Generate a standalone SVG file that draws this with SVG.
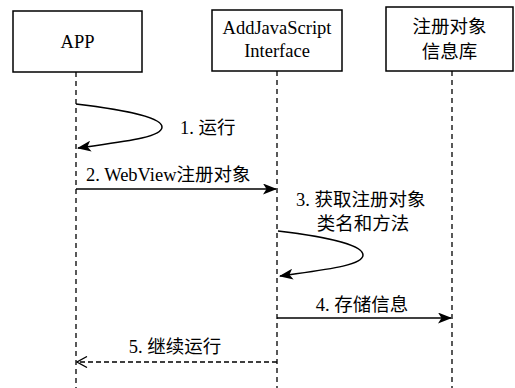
<svg xmlns="http://www.w3.org/2000/svg" width="515" height="388" viewBox="0 0 515 388">
<style>
.box{fill:#fff;stroke:#000;stroke-width:1.5}
.life{stroke:#000;stroke-width:1.3;stroke-dasharray:5,4;fill:none}
.msg{stroke:#000;stroke-width:1.5;fill:none}
.ret{stroke:#000;stroke-width:1.3;fill:none;stroke-dasharray:5,3}
text{font-family:"Liberation Serif","Noto Sans CJK SC",serif;font-size:18.5px;fill:#000}
.c{text-anchor:middle}
</style>
<defs>
<marker id="ah" viewBox="0 0 14 11" refX="13" refY="5.5" markerWidth="14" markerHeight="11" markerUnits="userSpaceOnUse" orient="auto">
<path d="M0,0 L14,5.5 L0,11 L3.5,5.5 Z" fill="#000"/>
</marker>
<marker id="oh" viewBox="0 0 12 12" refX="11" refY="6" markerWidth="12" markerHeight="12" markerUnits="userSpaceOnUse" orient="auto">
<path d="M1,0.5 L11,6 L1,11.5" fill="none" stroke="#000" stroke-width="1.3"/>
</marker>
</defs>
<g id="app"><rect class="box" x="13" y="11" width="129" height="61"/><text class="c" x="77.5" y="48">APP</text></g>
<g id="addjs"><rect class="box" x="212" y="10" width="130" height="61"/><text class="c" x="277" y="34">AddJavaScript</text><text class="c" x="277" y="57">Interface</text></g>
<g id="db"><rect class="box" x="386" y="7" width="127" height="64"/><text class="c" x="449.5" y="33">注册对象</text><text class="c" x="449.5" y="58">信息库</text></g>
<g id="connectors">
<line class="life" x1="76" y1="72" x2="76" y2="388"/>
<line class="life" x1="277" y1="71" x2="277" y2="388"/>
<line class="life" x1="452" y1="71" x2="452" y2="388"/>
<path class="msg" d="M76,104 C110,108 162,116 162,127 C162,138 120,142 78,148" marker-end="url(#ah)"/>
<line class="msg" x1="76" y1="189" x2="276" y2="189" marker-end="url(#ah)"/>
<path class="msg" d="M278,231 C312,235 363,243 363,255 C363,266 322,270 280,276" marker-end="url(#ah)"/>
<line class="msg" x1="277" y1="318" x2="451" y2="318" marker-end="url(#ah)"/>
<line class="ret" x1="277" y1="362" x2="77" y2="362" marker-end="url(#oh)"/>
</g>
<text x="180" y="134">1. 运行</text>
<text x="86" y="181">2. WebView注册对象</text>
<text x="296" y="206">3. 获取注册对象</text>
<text class="c" x="363" y="230">类名和方法</text>
<text class="c" x="362" y="311">4. 存储信息</text>
<text class="c" x="175" y="353">5. 继续运行</text>
</svg>
